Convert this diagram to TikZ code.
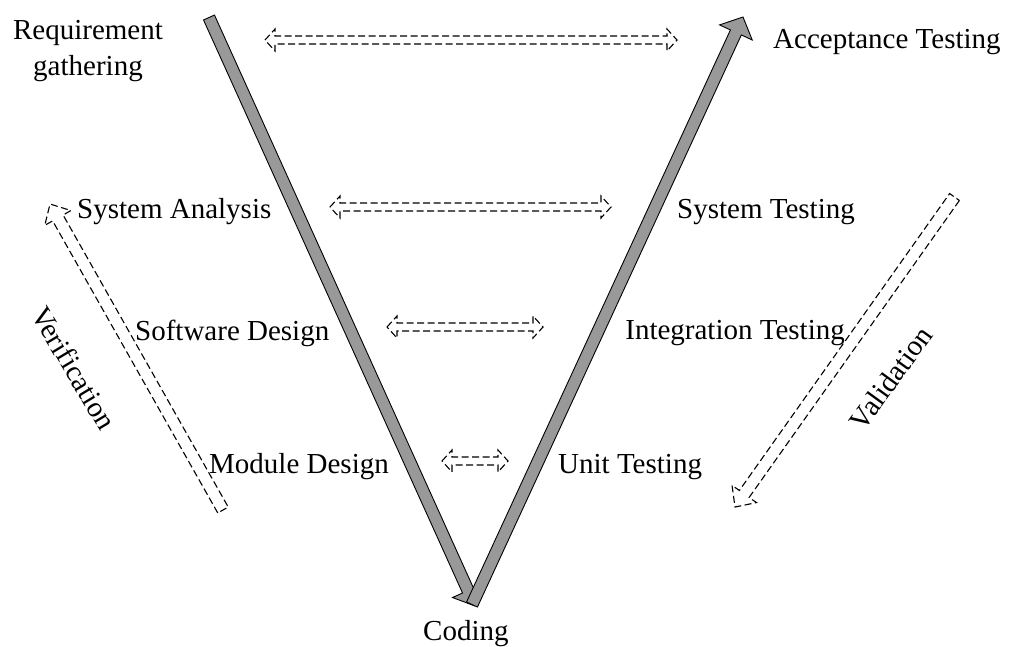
\documentclass[tikz,border=0pt]{standalone}
\usepackage{fontspec}
\setmainfont{Liberation Serif}
\usetikzlibrary{calc}
\definecolor{shaftgray}{HTML}{999999}

% Block arrow outline: [style]{start}{tip}{shaft half-width}{head length}{head half-width}
\newcommand{\blockarrow}[6][]{%
  \path coordinate (ba-h) at ($(#3)!#5!(#2)$);
  \draw[#1] ($(#2)!#4!90:(#3)$) -- ($(ba-h)!#4!90:(#3)$) -- ($(ba-h)!#6!90:(#3)$) -- (#3)
    -- ($(ba-h)!#6!-90:(#3)$) -- ($(ba-h)!#4!-90:(#3)$) -- ($(#2)!#4!-90:(#3)$) -- cycle;
}
% Block arrow with a head at both ends
\newcommand{\twoheadblock}[6][]{%
  \path coordinate (tb-a) at ($(#2)!#5!(#3)$) coordinate (tb-b) at ($(#3)!#5!(#2)$);
  \draw[#1] (#2) -- ($(tb-a)!#6!90:(#3)$) -- ($(tb-a)!#4!90:(#3)$) -- ($(tb-b)!#4!90:(#3)$)
    -- ($(tb-b)!#6!90:(#3)$) -- (#3) -- ($(tb-b)!#6!-90:(#3)$) -- ($(tb-b)!#4!-90:(#3)$)
    -- ($(tb-a)!#4!-90:(#3)$) -- ($(tb-a)!#6!-90:(#3)$) -- cycle;
}

\begin{document}
\begin{tikzpicture}[x=1pt,y=-1pt,
  txt/.style={inner sep=0pt, font=\fontsize{29}{36}\selectfont},
  fat/.style={fill=shaftgray, draw=black, line width=0.9pt, line join=miter},
  hollow/.style={draw=black, line width=1.1pt, dash pattern=on 7pt off 3.5pt},
]
\useasboundingbox (0,0) rectangle (1017,646);

% phase labels
\node[txt, align=center, anchor=north] (req) at (88,20) {Requirement\\gathering};
\node[txt, anchor=base west] (acc) at (773,48) {Acceptance Testing};
\node[txt, anchor=base west] (sa) at (77,218) {System Analysis};
\node[txt, anchor=base east] (st) at (855,218) {System Testing};
\node[txt, anchor=base west] (sd) at (135,340) {Software Design};
\node[txt, anchor=base east] (it) at (845,339) {Integration Testing};
\node[txt, anchor=base west] (md) at (209,473) {Module Design};
\node[txt, anchor=base west] (ut) at (558,473) {Unit Testing};
\node[txt, anchor=base west] (cod) at (423,640) {Coding};
\node[txt, rotate=-59] (ver) at (74,368) {Verification};
\node[txt, rotate=54] (val) at (891,378) {Validation};

% the V: design branch down, test branch up
\coordinate (vl-s) at (209,17.5);
\coordinate (vl-t) at (475,606);
\coordinate (vr-s) at (472,604.5);
\coordinate (vr-t) at (743,17);
\blockarrow[fat]{vl-s}{vl-t}{6pt}{17pt}{17pt}
\blockarrow[fat]{vr-s}{vr-t}{6pt}{17pt}{18pt}

% level correspondences
\coordinate (h1-l) at (265,40);  \coordinate (h1-r) at (677,40);
\coordinate (h2-l) at (330,207); \coordinate (h2-r) at (611,207);
\coordinate (h3-l) at (387,327); \coordinate (h3-r) at (543,327);
\coordinate (h4-l) at (442,461); \coordinate (h4-r) at (508,461);
\twoheadblock[hollow]{h1-l}{h1-r}{4pt}{10pt}{11pt}
\twoheadblock[hollow]{h2-l}{h2-r}{4pt}{10pt}{11pt}
\twoheadblock[hollow]{h3-l}{h3-r}{4pt}{10pt}{11pt}
\twoheadblock[hollow]{h4-l}{h4-r}{4pt}{10pt}{11pt}

% verification and validation directions
\coordinate (ver-s) at (223,510);
\coordinate (ver-t) at (50,204);
\coordinate (val-s) at (954.5,197);
\coordinate (val-t) at (735,507);
\blockarrow[hollow]{ver-s}{ver-t}{6pt}{16pt}{15pt}
\blockarrow[hollow]{val-s}{val-t}{6pt}{16pt}{15pt}
\end{tikzpicture}
\end{document}
